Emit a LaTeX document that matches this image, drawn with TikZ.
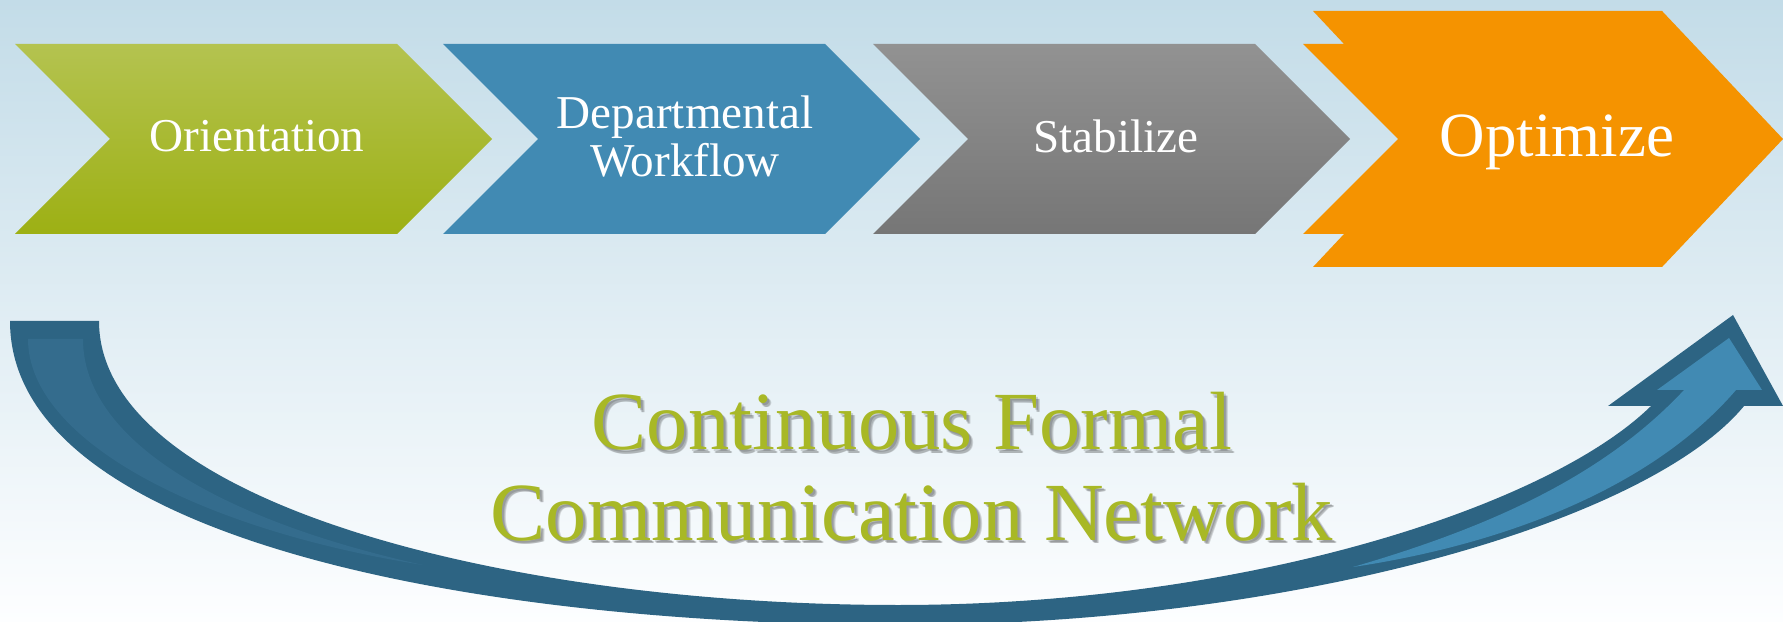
\documentclass[tikz,border=0pt]{standalone}
\usepackage{fontspec}
\setmainfont{Liberation Serif}
\usetikzlibrary{positioning}

\definecolor{bgtop}{RGB}{195,220,232}
\definecolor{bgbot}{RGB}{253,254,255}
\definecolor{greentop}{RGB}{180,195,80}
\definecolor{greenmid}{RGB}{172,190,34}
\definecolor{greenbot}{RGB}{157,176,20}
\definecolor{stageblue}{RGB}{65,138,179}
\definecolor{graytop}{RGB}{146,146,146}
\definecolor{graybot}{RGB}{118,118,118}
\definecolor{stageorange}{RGB}{245,147,0}
\definecolor{arrowdark}{RGB}{45,100,131}
\definecolor{arrowmid}{RGB}{52,108,141}
\definecolor{arrowlight}{RGB}{65,138,179}
\definecolor{headgreen}{RGB}{168,184,38}

\begin{document}
\begin{tikzpicture}[
  x=0.01cm, y=-0.01cm,
  stage/.style={text=white, inner sep=0pt, anchor=base, font=\fontsize{13.4}{16}\selectfont},
  greenstage/.style={top color=greentop, middle color=greenmid, bottom color=greenbot},
  bluestage/.style={fill=stageblue},
  graystage/.style={top color=graytop, bottom color=graybot},
  heading/.style={text=headgreen, inner sep=0pt, anchor=base, font=\fontsize{23.5}{28}\selectfont},
  headshadow/.style={heading, text=black, opacity=.14}]

  \useasboundingbox (0,0) rectangle (1783,622);
  \clip (0,0) rectangle (1783,622);
  \shade[top color=bgtop, bottom color=bgbot] (0,0) rectangle (1783,622);

  % the three plain chevrons
  \foreach \x/\sty in {15/greenstage, 443/bluestage, 873/graystage}
    \path[\sty] (\x,44) -- ++(382,0) -- ++(95,95) -- ++(-95,95) -- ++(-382,0) -- ++(95,-95) -- cycle;

  % last one is bigger, with a stepped notch
  \fill[stageorange] (1313,11) -- (1662,11) -- (1783,139) -- (1662,267) -- (1313,267) -- (1344,234)
    -- (1303,234) -- (1398,139) -- (1303,44) -- (1344,44) -- cycle;

  % curved feedback arrow, dark body first
  \fill[arrowdark] (10,321) -- (99,321)
    .. controls (99,500) and (500,605) .. (898,605)
    .. controls (1250,605) and (1550,505) .. (1651,406)
    -- (1608,406) -- (1733,315) -- (1783,406) -- (1744,406)
    .. controls (1650,520) and (1300,625) .. (900,625)
    .. controls (480,625) and (10,540) .. (10,321) -- cycle;
  % lighter stripes inside it
  \fill[arrowmid] (28,339) -- (83,339)
    .. controls (83,440) and (220,520) .. (423,565)
    .. controls (200,530) and (28,440) .. (28,339) -- cycle;
  \fill[arrowlight] (1657,390) -- (1729,338) -- (1762,390) -- (1736,390)
    .. controls (1650,490) and (1500,545) .. (1353,567)
    .. controls (1480,530) and (1600,480) .. (1684,390) -- cycle;

  \node[stage] (orientation) at (257,152) {Orientation};
  \node[stage] (departmental) at (685,129) {Departmental};
  \node[stage] (workflow) at (685,177) {Workflow};
  \node[stage] (stabilize) at (1116,153) {Stabilize};
  \node[stage, font=\fontsize{17.9}{21}\selectfont] (optimize) at (1557,157) {Optimize};

  % heading, with a soft shadow laid under it
  \foreach \d in {2,3,4} {
    \node[headshadow] (continuousshadow\d) at (912+\d,450+\d) {Continuous Formal};
    \node[headshadow] (networkshadow\d) at (912+\d,540+\d) {Communication Network};
  }
  \node[heading] (continuous) at (912,450) {Continuous Formal};
  \node[heading] (network) at (912,540) {Communication Network};
\end{tikzpicture}
\end{document}
